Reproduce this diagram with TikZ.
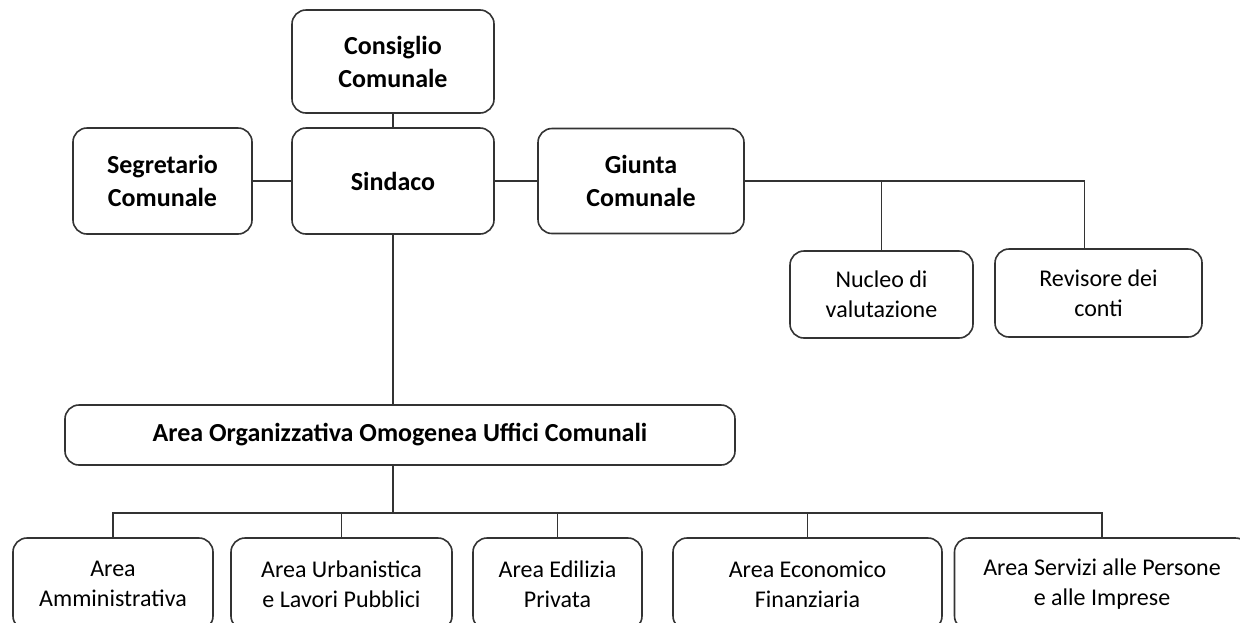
\documentclass[tikz,border=0pt]{standalone}
\usepackage{fontspec}
\setmainfont{Carlito}
\begin{document}
\begin{tikzpicture}[x=0.5pt,y=-0.5pt,
  box/.style={draw=black!80,line width=0.8pt,rounded corners=7pt,align=center,inner sep=0pt},
  big/.style={box,font=\fontsize{13}{16.5}\selectfont\bfseries},
  small/.style={box,font=\fontsize{12}{15}\selectfont},
  link/.style={draw=black!80,line width=0.8pt}]
\useasboundingbox (0,0) rectangle (1240,622);
\clip (0,0) rectangle (1240,622);
\node[big,minimum width=101pt,minimum height=51.5pt] (cons) at (393,61.5) {Consiglio\\Comunale};
\node[big,minimum width=101pt,minimum height=53pt] (sind) at (393,181) {Sindaco};
\node[big,minimum width=89.5pt,minimum height=53pt] (segr) at (162.5,181) {Segretario\\Comunale};
\node[big,minimum width=103pt,minimum height=52.5pt] (giun) at (641,181) {Giunta\\Comunale};
\node[small,minimum width=91.5pt,minimum height=43.5pt] (nucl) at (881.5,294.5) {Nucleo di\\valutazione};
\node[small,minimum width=103.5pt,minimum height=44pt] (revi) at (1098.5,293) {Revisore dei\\conti};
\node[big,minimum width=335pt,minimum height=30pt] (aoo) at (400,435) {Area Organizzativa Omogenea Uffici Comunali};
\foreach \n/\x/\w/\t in {amm/113/100/{Area\\Amministrativa},
    urb/341.5/110.5/{Area Urbanistica\\e Lavori Pubblici},
    edi/557.5/84.5/{Area Edilizia\\Privata},
    eco/807.5/134.5/{Area Economico\\Finanziaria},
    ser/1102/147.5/{Area Servizi alle Persone\\e alle Imprese}}
    \node[small,minimum width=\w pt,minimum height=46pt] (\n) at (\x,584) {\t};
\draw[link] (cons.south) -- (sind.north);
\draw[link] (segr.east) -- (sind.west);
\draw[link] (sind.east) -- (giun.west);
\coordinate (rev) at ([xshift=-7pt]revi.north);
\draw[link] (giun.east) -- (rev |- giun.east) -- (rev);
\draw[link] (nucl.north) -- (nucl.north |- giun.east);
\draw[link] (sind.south) -- (sind.south |- aoo.north);
\coordinate (bus) at (393,513);
\draw[link] (aoo.south -| bus) -- (bus);
\draw[link] (amm.north) -- (amm.north |- bus) -- (ser.north |- bus) -- (ser.north);
\foreach \n in {urb,edi,eco}
    \draw[link] (\n.north) -- (\n.north |- bus);
\end{tikzpicture}
\end{document}
